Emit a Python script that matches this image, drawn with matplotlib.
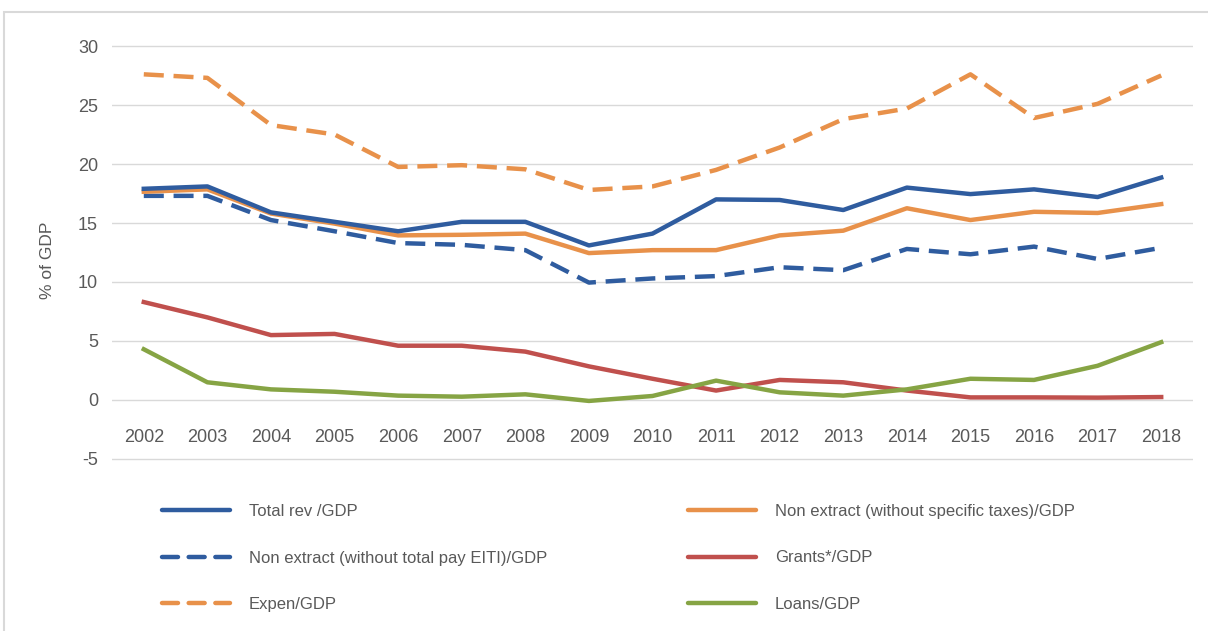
import matplotlib.pyplot as plt
from matplotlib.lines import Line2D
from matplotlib.patches import Rectangle

plt.rcParams['font.family'] = ['Liberation Sans', 'DejaVu Sans']
plt.rcParams['axes.unicode_minus'] = False

years = [str(y) for y in range(2002, 2019)]

total_rev = [17.9, 18.1, 15.9, 15.1, 14.3, 15.1, 15.1, 13.1, 14.1,
             17.0, 16.95, 16.1, 18.0, 17.45, 17.85, 17.2, 18.85]
non_extract_specific = [17.65, 17.85, 15.8, 14.95, 13.95, 14.0, 14.1, 12.45, 12.7,
                        12.7, 13.95, 14.35, 16.25, 15.25, 15.95, 15.85, 16.6]
non_extract_eiti = [17.3, 17.3, 15.25, 14.3, 13.3, 13.15, 12.7, 9.95, 10.3,
                    10.5, 11.25, 11.0, 12.8, 12.35, 13.0, 11.95, 12.9]
grants = [8.3, 7.0, 5.5, 5.6, 4.6, 4.6, 4.1, 2.85, 1.8,
          0.8, 1.7, 1.5, 0.8, 0.22, 0.22, 0.2, 0.25]
expen = [27.6, 27.3, 23.3, 22.5, 19.75, 19.9, 19.55, 17.8, 18.1,
         19.5, 21.4, 23.8, 24.7, 27.6, 23.9, 25.1, 27.5]
loans = [4.3, 1.5, 0.9, 0.7, 0.37, 0.28, 0.48, -0.08, 0.34,
         1.64, 0.65, 0.37, 0.9, 1.8, 1.7, 2.9, 4.9]

blue = '#2F5C9F'
orange = '#E8914A'
red = '#C0504D'
green = '#86A444'
grey = '#595959'

fig = plt.figure(figsize=(12.08, 6.31), dpi=100)
ax = fig.add_axes([112 / 1208, 1 - 461 / 631, 1081 / 1208, 417 / 631])

x = range(len(years))
dash = (4.5, 2.2)
lw = 3.2
ax.plot(x, total_rev, color=blue, lw=lw, zorder=6)
ax.plot(x, non_extract_specific, color=orange, lw=lw, zorder=5)
ax.plot(x, non_extract_eiti, color=blue, lw=lw, dashes=dash, zorder=4)
ax.plot(x, grants, color=red, lw=lw, zorder=3)
ax.plot(x, expen, color=orange, lw=lw, dashes=dash, zorder=4)
ax.plot(x, loans, color=green, lw=lw, zorder=3)

ax.set_xlim(-0.5, len(years) - 0.5)
ax.set_ylim(-5.17, 30.17)
ax.set_yticks(range(-5, 31, 5))
ax.set_xticks(list(x))
ax.set_xticklabels(years)
ax.grid(axis='y', color='#D9D9D9', lw=1)
ax.set_axisbelow(True)
for s in ax.spines.values():
    s.set_visible(False)
ax.spines['bottom'].set_position(('data', 0))
ax.tick_params(axis='both', length=0, labelsize=13, labelcolor=grey)
ax.tick_params(axis='y', pad=10)
ax.tick_params(axis='x', pad=21)

fig.text(47 / 1208, 1 - 260 / 631, '% of GDP', rotation=90, ha='center',
         va='center', fontsize=12.5, color=grey)

# outer chart frame
fig.patches.append(Rectangle((4 / 1208, -0.1), 1.2, 1 - 12 / 631 + 0.1,
                             transform=fig.transFigure, fill=False,
                             edgecolor='#D9D9D9', lw=1.5))

def handle(c, d=None):
    if d:
        return Line2D([], [], color=c, lw=lw, dashes=(3.6, 2.4), dash_capstyle='round')
    return Line2D([], [], color=c, lw=lw, solid_capstyle='round')

kw = dict(frameon=False, fontsize=12, labelcolor=grey, handlelength=4.1,
          handletextpad=1.1, labelspacing=1.88, borderpad=0, borderaxespad=0,
          loc='center left')
fig.legend([handle(blue), handle(blue, 1), handle(orange, 1)],
           ['Total rev /GDP', 'Non extract (without total pay EITI)/GDP', 'Expen/GDP'],
           bbox_to_anchor=(162 / 1208, 1 - 558 / 631), **kw)
fig.legend([handle(orange), handle(red), handle(green)],
           ['Non extract (without specific taxes)/GDP', 'Grants*/GDP', 'Loans/GDP'],
           bbox_to_anchor=(688 / 1208, 1 - 558 / 631), **kw)

fig.savefig('out.png', dpi=100)
